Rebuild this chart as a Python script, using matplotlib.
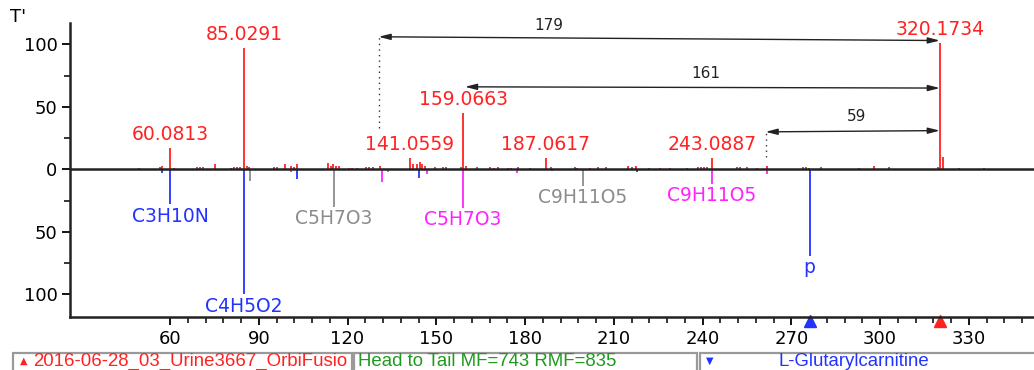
import numpy as np
import matplotlib
matplotlib.use('Agg')
import matplotlib.pyplot as plt
from matplotlib.patches import Rectangle
from matplotlib.ticker import FixedLocator, FuncFormatter

# measured spectrum (head, red)
sample_mz = [49.5, 56.5, 57.3, 60.0813, 61.4, 69.2, 70.2, 71.0, 75.2, 80.5, 81.5, 82.5, 83.6,
             85.0291, 86.0, 86.8, 95.1, 96.2, 99.0, 100.8, 101.8, 103.0, 113.3, 114.3, 115.1,
             116.2, 117.0, 120.5, 121.6, 123.2, 126.3, 127.4, 128.6, 131.0, 141.0559, 142.2,
             143.4, 144.6, 145.0, 146.3, 149.5, 152.2, 153.4, 158.2, 159.0663, 160.1, 163.7,
             168.2, 169.5, 171.0, 174.2, 175.4, 177.5, 181.6, 187.0617, 188.6, 196.8, 197.6,
             202.0, 204.8, 207.4, 214.8, 216.2, 217.6, 222.0, 225.5, 229.0, 234.7, 238.3,
             239.5, 240.6, 241.6, 243.0887, 251.5, 252.6, 255.0, 258.3, 261.7, 274.0, 275.1,
             276.1, 280.0, 292.8, 297.8, 303.0, 319.6, 320.1734, 321.18, 326.6, 335.0]
sample_int = [1, 2, 3, 17, 1, 2, 2, 2, 4, 1.5, 2, 2, 2,
              97, 3, 2, 2, 2, 4, 3, 2, 4, 5, 3, 4,
              3, 3, 1.5, 1.5, 1.5, 2, 2, 2, 3, 9, 4,
              4, 6, 4, 3, 2, 2, 2, 2, 45, 3, 2,
              2, 1.5, 2, 1.5, 1.5, 2, 1, 9, 2, 2, 1.5,
              1, 2, 2, 3, 2, 3, 1.5, 1.5, 1.5, 1.5, 2,
              2, 2, 2, 9, 2, 2, 2, 1.5, 3, 2, 2,
              1.5, 2, 1.5, 3, 2, 2, 101, 10, 1, 1.5]

# library spectrum (tail), drawn downward
lib_blue_mz = [57.3, 60.0813, 85.0291, 103.0, 144.1, 217.8, 276.14]
lib_blue_int = [3, 28, 100, 8, 7, 2, 69]
lib_gray_mz = [87.0, 115.4, 133.7, 199.5]
lib_gray_int = [9, 30, 2, 13]
lib_mag_mz = [101.0, 131.6, 147.0, 159.0663, 177.2, 189.0, 243.0887, 261.7]
lib_mag_int = [2, 10, 4, 31, 3, 1, 11.5, 4]

mass_labels = ['60.0813', '85.0291', '141.0559', '159.0663', '187.0617', '243.0887', '320.1734']
mass_label_mz = [60.0813, 85.0291, 141.0559, 159.0663, 187.0617, 243.0887, 320.1734]
mass_label_int = [17, 97, 9, 45, 9, 9, 101]

formula_labels = ['C3H10N', 'C4H5O2', 'C5H7O3', 'C5H7O3', 'C9H11O5', 'C9H11O5', 'p']
formula_mz = [60.0813, 85.0291, 115.4, 159.0663, 199.5, 243.0887, 276.14]
formula_int = [28, 100, 30, 31, 13, 11.5, 69]
formula_colors = ['blue', 'blue', 'gray', 'mag', 'gray', 'mag', 'blue']

# neutral loss arrows
loss_left = [130.5, 159.7, 261.3]
loss_right = [320.1734, 320.1734, 320.1734]
loss_y_left = [106, 66, 30]
loss_y_right = [103, 65, 31]
loss_text = ['179', '161', '59']
loss_text_x = [188, 241, 292]
loss_text_y = [115, 77, 42]

RED = '#ff2222'
COLS = {'blue': '#2233ff', 'gray': '#8c8c8c', 'mag': '#ff22ff'}

fig = plt.figure(figsize=(10.34, 3.7), dpi=100)
ax = fig.add_axes([0.0677, 0.1432, 0.9323, 0.7946])

ax.vlines(sample_mz, 0, sample_int, color=RED, lw=1.3)
ax.vlines(lib_blue_mz, 0, -np.array(lib_blue_int), color=COLS['blue'], lw=1.3)
ax.vlines(lib_gray_mz, 0, -np.array(lib_gray_int), color=COLS['gray'], lw=1.3)
ax.vlines(lib_mag_mz, 0, -np.array(lib_mag_int), color=COLS['mag'], lw=1.3)
ax.axhline(0, color='#222222', lw=1.8)

for lab, mz, h in zip(mass_labels, mass_label_mz, mass_label_int):
    ax.annotate(lab, (mz, h), xytext=(0, 3), textcoords='offset points',
                ha='center', va='bottom', color=RED, fontsize=13.5)

for lab, mz, h, c in zip(formula_labels, formula_mz, formula_int, formula_colors):
    ax.annotate(lab, (mz, -h), xytext=(0, -1.5), textcoords='offset points',
                ha='center', va='top', color=COLS[c], fontsize=13.5)

for x0, x1, y0, y1, t, tx, ty in zip(loss_left, loss_right, loss_y_left, loss_y_right,
                                     loss_text, loss_text_x, loss_text_y):
    ax.annotate('', xy=(x0, y0), xytext=(x1, y1),
                arrowprops=dict(arrowstyle='<|-|>,head_length=0.7,head_width=0.18',
                                color='#222222', lw=1, shrinkA=0, shrinkB=0))
    ax.text(tx, ty, t, ha='center', va='center', fontsize=11, color='#222222')

# dotted drop lines from the loss arrows
ax.vlines([130.5, 261.3], [33, 10], [106, 30], colors='#333333', lw=1, linestyles=(0, (1, 3)))

# precursor markers on the m/z axis
trans = ax.get_xaxis_transform()
ax.plot([276.14], [-0.014], marker='^', color='#2233ff', ms=9, transform=trans, clip_on=False)
ax.plot([320.1734], [-0.014], marker='^', color='#ff2222', ms=9, transform=trans, clip_on=False)

ax.set_xlim(26.2, 352)
ax.set_ylim(-118, 117)
ax.set_xticks(np.arange(60, 331, 30))
ax.xaxis.set_minor_locator(FixedLocator(np.arange(60, 350, 6)))
ax.set_yticks([-100, -50, 0, 50, 100])
ax.yaxis.set_minor_locator(FixedLocator([-75, -25, 25, 75]))
ax.yaxis.set_major_formatter(FuncFormatter(lambda v, p: f'{abs(v):.0f}'))
ax.tick_params(which='major', length=6, width=1.3, labelsize=13, pad=3)
ax.tick_params(which='minor', length=4, width=1.1)
for s in ['top', 'right']:
    ax.spines[s].set_visible(False)
for s in ['left', 'bottom']:
    ax.spines[s].set_linewidth(1.8)
    ax.spines[s].set_color('#222222')

fig.text(0.017, 0.954, "T'", ha='center', va='center', fontsize=13)

# status bar at the bottom
W, H = 1034, 370
boxes = [(13, 352), (354, 697), (700, 1040)]
rects = []
for x0, x1 in boxes:
    r = Rectangle((x0 / W, -0.02), (x1 - x0) / W, 0.02 + (H - 353) / H,
                  transform=fig.transFigure, facecolor='white', edgecolor='#9a9a9a', lw=1.6)
    fig.add_artist(r)
    rects.append(r)
tb = 1 - 366 / H
t1 = fig.text(33 / W, tb, '2016-06-28_03_Urine3667_OrbiFusio', color=RED, fontsize=13.4,
              family='Liberation Sans', va='baseline')
t1.set_clip_path(rects[0])
fig.text(24 / W, 1 - 361 / H, '▲', color=RED, fontsize=7, ha='center', va='center')
fig.text(358 / W, tb, 'Head to Tail MF=743 RMF=835', color='#1e9a1e', fontsize=13.4,
         family='Liberation Sans', va='baseline')
fig.text(710 / W, 1 - 361 / H, '▼', color='#2233ff', fontsize=7, ha='center', va='center')
fig.text(854 / W, tb, 'L-Glutarylcarnitine', color='#2233ff', fontsize=13.4,
         family='Liberation Sans', ha='center', va='baseline')

fig.savefig('out.png', dpi=100)
